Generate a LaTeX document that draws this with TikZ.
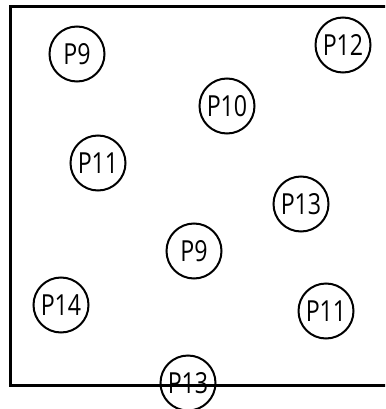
\documentclass[tikz,border=0pt]{standalone}
\usepackage{fontspec}
\setmainfont{Open Sans}[FakeStretch=0.8]
\begin{document}
\begin{tikzpicture}[x=1pt,y=-1pt,
  peer/.style={draw, circle, line width=2pt, minimum size=55pt, inner sep=0pt, font=\fontsize{29}{29}\selectfont}]
  \useasboundingbox (0,0) rectangle (385,409);
  \clip (0,0) rectangle (385,409);
  \draw[line width=2.4pt] (10.5,6.5) rectangle (400,385.5);
  \node[peer] (p9a) at (77,54) {P9};
  \node[peer] (p12) at (343,45) {P12};
  \node[peer] (p10) at (227,106) {P10};
  \node[peer] (p11a) at (98,163) {P11};
  \node[peer] (p13a) at (301,204) {P13};
  \node[peer] (p9b) at (194,251) {P9};
  \node[peer] (p14) at (61,305) {P14};
  \node[peer] (p11b) at (326,311) {P11};
  \node[peer] (p13b) at (188,383) {P13};
\end{tikzpicture}
\end{document}
